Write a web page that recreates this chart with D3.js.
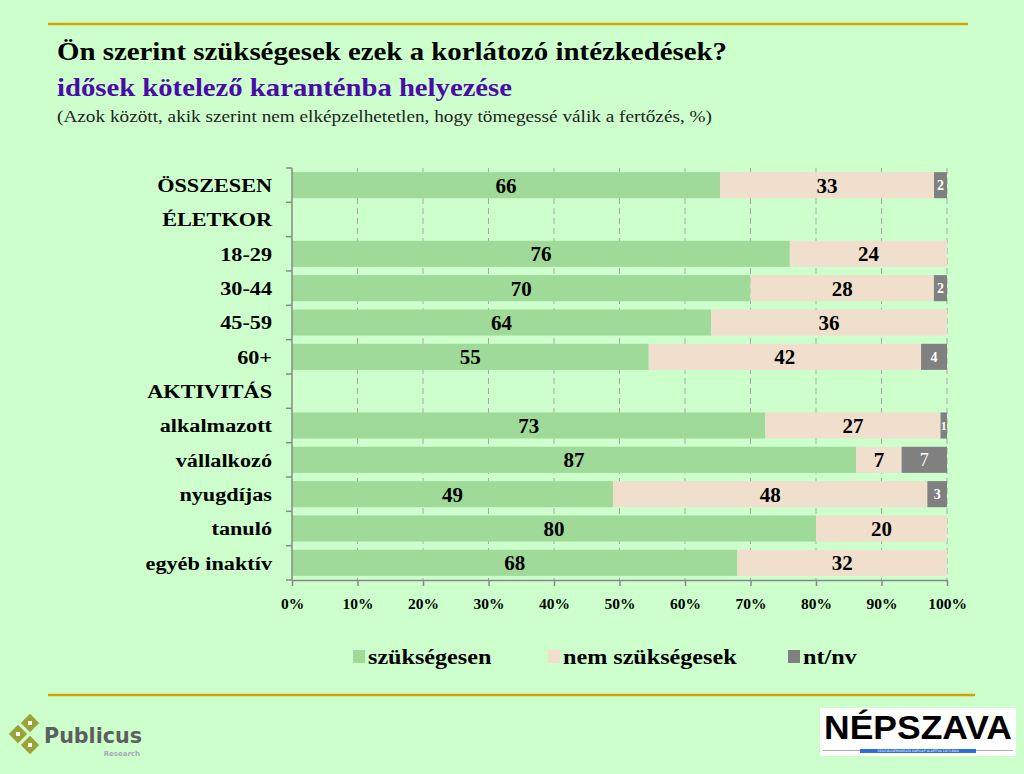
<!DOCTYPE html>
<html><head><meta charset="utf-8">
<script src="https://cdn.jsdelivr.net/npm/d3@7"></script>
<style>body{margin:0;background:#CCFFCC;} svg{display:block;}</style>
</head><body><svg id="c" width="1024" height="774"></svg>
<script>
const categories = ["ÖSSZESEN","ÉLETKOR","18-29","30-44","45-59","60+","AKTIVITÁS","alkalmazott","vállalkozó","nyugdíjas","tanuló","egyéb inaktív"];
const szukseges = [66,null,76,70,64,55,null,73,87,49,80,68];
const nemSzukseges = [33,null,24,28,36,42,null,27,7,48,20,32];
const ntnv = [2,null,0,2,0,4,null,1,7,3,0,0];
const seriesNames = ["szükségesen","nem szükségesek","nt/nv"];
const colors = ["#A0DA98","#F0DFCC","#808080"];
const xTicks = [0,10,20,30,40,50,60,70,80,90,100];

const svg = d3.select("#c");
const serif = "'Liberation Serif','DejaVu Serif',serif";
svg.append("rect").attr("width",1024).attr("height",774).attr("fill","#CCFFCC");

// lines
svg.append("line").attr("x1",48).attr("x2",968).attr("y1",24).attr("y2",24).attr("stroke","#D4A200").attr("stroke-width",2.5);
svg.append("line").attr("x1",48).attr("x2",975).attr("y1",695).attr("y2",695).attr("stroke","#D4A200").attr("stroke-width",2.5);

// titles
svg.append("text").attr("x",57).attr("y",60).attr("font-family",serif).attr("font-weight","bold").attr("font-size",25).attr("textLength",670).attr("lengthAdjust","spacingAndGlyphs").attr("fill","#000").text("Ön szerint szükségesek ezek a korlátozó intézkedések?");
svg.append("text").attr("x",57).attr("y",96).attr("font-family",serif).attr("font-weight","bold").attr("font-size",25).attr("textLength",455).attr("lengthAdjust","spacingAndGlyphs").attr("fill","#4A0CA8").text("idősek kötelező karanténba helyezése");
svg.append("text").attr("x",57).attr("y",122).attr("font-family",serif).attr("font-size",17).attr("textLength",655).attr("lengthAdjust","spacingAndGlyphs").attr("fill","#222").text("(Azok között, akik szerint nem elképzelhetetlen, hogy tömegessé válik a fertőzés, %)");

const x = d3.scaleLinear().domain([0,100]).range([292,947]);
const y = d3.scaleBand().domain(categories).range([168,580]).paddingInner(0.24).paddingOuter(0.12);

// gridlines
const g = svg.append("g");
g.selectAll("line.grid").data(xTicks.slice(1)).join("line")
 .attr("x1",d=>x(d)).attr("x2",d=>x(d)).attr("y1",168).attr("y2",580)
 .attr("stroke","#A8A8A8").attr("stroke-width",1).attr("stroke-dasharray","6,4");

// stacked data
const rows = categories.map((c,i)=>({cat:c, vals:[szukseges[i],nemSzukseges[i],ntnv[i]]})).filter(r=>r.vals[0]!==null);
rows.forEach(r=>{
  const tot = d3.sum(r.vals);
  let acc = 0;
  r.segs = r.vals.map((v,k)=>{const s={k,v,x0:acc/tot*100,x1:(acc+v)/tot*100,cat:r.cat};acc+=v;return s;});
});
const segs = rows.flatMap(r=>r.segs).filter(s=>s.v>0);
g.selectAll("rect.bar").data(segs).join("rect")
 .attr("x",d=>x(d.x0)).attr("width",d=>x(d.x1)-x(d.x0))
 .attr("y",d=>y(d.cat)).attr("height",y.bandwidth())
 .attr("fill",d=>colors[d.k]);
g.selectAll("text.val").data(segs).join("text")
 .attr("x",d=>(x(d.x0)+x(d.x1))/2).attr("y",d=>y(d.cat)+y.bandwidth()/2)
 .attr("dy","0.35em").attr("text-anchor","middle")
 .attr("font-family",serif)
 .attr("font-weight",d=>d.k===2&&d.v>5?"normal":"bold")
 .attr("font-size",d=>d.k===2?(d.v<2?12:(d.v>5?18:14)):21)
 .attr("fill",d=>d.k===2?"#fff":"#000")
 .text(d=>d.v);

// x axis
const xAxis = d3.axisBottom(x).tickValues(xTicks).tickFormat(d=>d+"%").tickSize(6).tickSizeOuter(0);
const xa = svg.append("g").attr("transform","translate(0,580)").call(xAxis);
xa.select(".domain").attr("stroke","#888").attr("stroke-width",1.5);
xa.selectAll(".tick line").attr("stroke","#888").attr("stroke-width",1.5);
xa.selectAll(".tick text").attr("font-family",serif).attr("font-weight","bold").attr("font-size",15.5).attr("fill","#000").attr("dy","1.3em");

// y axis
const ya = svg.append("g").attr("transform","translate(292,0)");
ya.append("line").attr("x1",0).attr("x2",0).attr("y1",168).attr("y2",580).attr("stroke","#888").attr("stroke-width",1.5);
const bounds = d3.range(categories.length+1).map(i=>168+i*(580-168)/categories.length);
ya.selectAll("line.t").data(bounds).join("line").attr("x1",-6).attr("x2",0).attr("y1",d=>d).attr("y2",d=>d).attr("stroke","#888").attr("stroke-width",1.5);
const cl = svg.append("g").attr("transform","translate(272,0) scale(1.14,1)");
cl.selectAll("text.cat").data(categories).join("text")
 .attr("x",0).attr("y",d=>y(d)+y.bandwidth()/2).attr("dy","0.35em").attr("text-anchor","end")
 .attr("font-family",serif).attr("font-weight","bold").attr("font-size",19.5).attr("fill","#000")
 .text(d=>d);

// legend
const legX = [353,548,788];
const lg = svg.append("g");
seriesNames.forEach((n,i)=>{
  lg.append("rect").attr("x",legX[i]).attr("y",650).attr("width",12).attr("height",13).attr("fill",colors[i]);
  lg.append("g").attr("transform",`translate(${legX[i]+15},664) scale(1.15,1)`)
    .append("text").attr("x",0).attr("y",0).attr("font-family",serif).attr("font-weight","bold").attr("font-size",21).attr("fill","#000").text(n);
});

// Publicus logo
const pl = svg.append("g");
const dia = [[30,723],[18,734],[30,745]];
dia.forEach(([cx,cy])=>{
  pl.append("rect").attr("x",cx-6.5).attr("y",cy-6.5).attr("width",13).attr("height",13).attr("transform",`rotate(45,${cx},${cy})`).attr("fill","#9AA33A");
  pl.append("rect").attr("x",cx-2).attr("y",cy-2).attr("width",4).attr("height",4).attr("fill","#fff");
});
pl.append("text").attr("x",44).attr("y",743).attr("font-family","'DejaVu Sans',sans-serif").attr("font-weight","bold").attr("font-size",21).attr("textLength",98).attr("lengthAdjust","spacingAndGlyphs").attr("fill","#5E5E5E").text("Publicus");
pl.append("text").attr("x",140).attr("y",756).attr("text-anchor","end").attr("font-family","'DejaVu Sans',sans-serif").attr("font-weight","bold").attr("font-size",7).attr("fill","#A9A9B8").text("Research");

// Népszava logo
const np = svg.append("g");
np.append("rect").attr("x",820).attr("y",708).attr("width",196).attr("height",48).attr("fill","#fff");
np.append("text").attr("x",918).attr("y",739).attr("text-anchor","middle").attr("font-family","'Liberation Sans',Arial,sans-serif").attr("font-weight","bold").attr("font-size",33).attr("textLength",188).attr("lengthAdjust","spacingAndGlyphs").attr("fill","#000").text("NÉPSZAVA");
np.append("line").attr("x1",823).attr("x2",1013).attr("y1",750.5).attr("y2",750.5).attr("stroke","#aaa").attr("stroke-width",1);
np.append("rect").attr("x",860).attr("y",749).attr("width",116).attr("height",4).attr("fill","#2A6FD6");
np.append("text").attr("x",918).attr("y",752.3).attr("text-anchor","middle").attr("font-family","'DejaVu Sans',sans-serif").attr("font-size",3.2).attr("fill","#fff").text("SZOCIÁLDEMOKRATA NAPILAP        ALAPÍTVA 1873-BAN");
</script></body></html>
